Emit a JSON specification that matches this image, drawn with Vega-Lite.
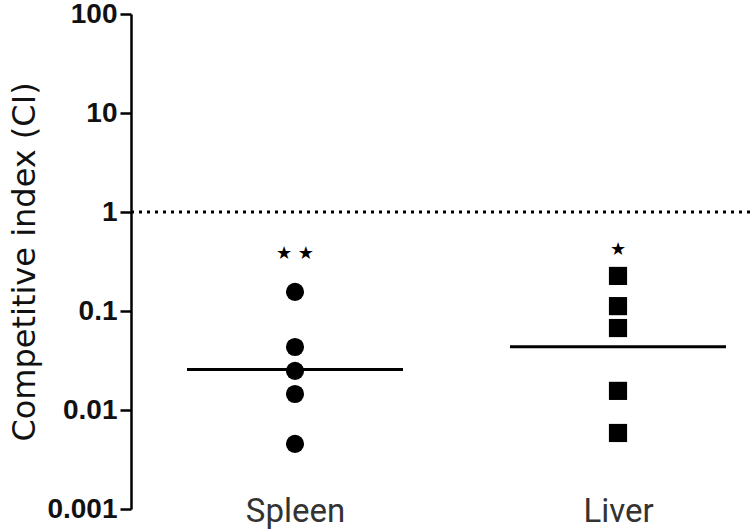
{
  "$schema": "https://vega.github.io/schema/vega-lite/v6.json",
  "autosize": "none",
  "width": 619,
  "height": 495,
  "padding": {"left": 131, "top": 14, "right": 0, "bottom": 22},
  "background": "white",
  "config": {"view": {"stroke": null}},
  "datasets": {
    "points": [
      {"tissue": "Spleen", "ci": 0.156},
      {"tissue": "Spleen", "ci": 0.0433},
      {"tissue": "Spleen", "ci": 0.0248},
      {"tissue": "Spleen", "ci": 0.0145},
      {"tissue": "Spleen", "ci": 0.00454},
      {"tissue": "Liver", "ci": 0.226},
      {"tissue": "Liver", "ci": 0.112},
      {"tissue": "Liver", "ci": 0.0673},
      {"tissue": "Liver", "ci": 0.0156},
      {"tissue": "Liver", "ci": 0.00586}
    ],
    "means": [
      {"tissue": "Spleen", "ci": 0.0256},
      {"tissue": "Liver", "ci": 0.0435}
    ],
    "stars": [
      {"tissue": "Spleen", "ci": 0.376, "sig": "★ ★"},
      {"tissue": "Liver", "ci": 0.41, "sig": "★"}
    ],
    "ref": [{"ci": 1}]
  },
  "encoding": {
    "x": {
      "field": "tissue",
      "type": "nominal",
      "scale": {"type": "point", "domain": ["Spleen", "Liver"], "range": [164, 487], "padding": 0},
      "axis": {
        "title": null,
        "domain": false,
        "ticks": false,
        "labelAngle": 0,
        "labelBaseline": "middle",
        "labelPadding": 2,
        "labelFontSize": 33,
        "labelFont": "Roboto",
        "labelColor": "#333333",
        "labelFontWeight": "normal"
      }
    },
    "y": {
      "field": "ci",
      "type": "quantitative",
      "scale": {"type": "log", "domain": [0.001, 100], "nice": false},
      "axis": {
        "title": "Competitive index (CI)",
        "values": [0.001, 0.01, 0.1, 1, 10, 100],
        "format": "~g",
        "grid": false,
        "domainColor": "black",
        "domainWidth": 2.5,
        "tickColor": "black",
        "tickWidth": 2.5,
        "tickSize": 11,
        "labelPadding": 3,
        "labelFontSize": 28,
        "labelFont": "Liberation Sans",
        "labelFontWeight": "bold",
        "labelColor": "#111111",
        "titleFontSize": 32,
        "titleFont": "DejaVu Sans",
        "titleFontWeight": "normal",
        "titleColor": "#111111",
        "titlePadding": 5
      }
    }
  },
  "layer": [
    {
      "data": {"name": "ref"},
      "mark": {"type": "rule", "strokeDash": [3, 5], "strokeWidth": 3, "color": "black"},
      "encoding": {"x": null, "y": {"field": "ci", "type": "quantitative"}}
    },
    {
      "data": {"name": "means"},
      "mark": {"type": "tick", "size": 216, "thickness": 3, "color": "black", "opacity": 1, "orient": "horizontal"}
    },
    {
      "data": {"name": "points"},
      "mark": {"type": "point", "filled": true, "opacity": 1, "color": "black", "size": 330},
      "encoding": {
        "shape": {
          "field": "tissue",
          "type": "nominal",
          "scale": {"domain": ["Spleen", "Liver"], "range": ["circle", "square"]},
          "legend": null
        }
      }
    },
    {
      "data": {"name": "stars"},
      "mark": {"type": "text", "font": "DejaVu Sans", "fontSize": 18, "color": "black", "baseline": "middle"},
      "encoding": {"text": {"field": "sig"}}
    }
  ]
}
